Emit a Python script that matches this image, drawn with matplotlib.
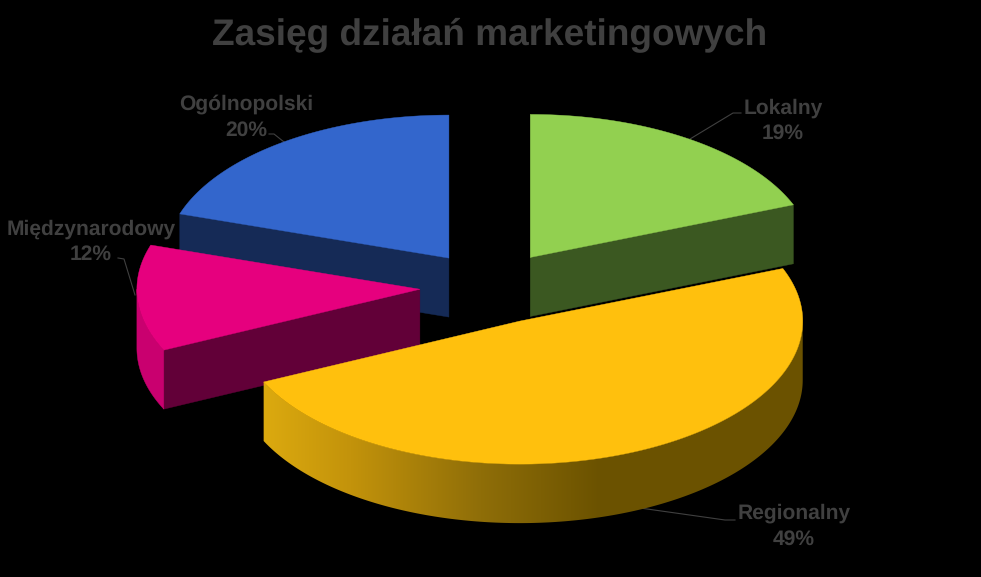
import numpy as np
import matplotlib
matplotlib.use("Agg")
import matplotlib.pyplot as plt
from matplotlib.colors import to_rgb
from matplotlib.patches import Polygon

TITLE = "Zasięg działań marketingowych"
labels = ["Lokalny", "Regionalny", "Międzynarodowy", "Ogólnopolski"]
values = [19, 49, 12, 20]

TOP = ["#92d050", "#ffc00d", "#e6007e", "#3366cc"]
CUT = ["#3b5821", "#6b5200", "#620038", "#152a56"]
RIM = "#c9006f"
DEPTH = 59
CX, CY = 490.5, 287
RX, RY = 283, 143
EXPLODE = [0.25, 0.26, 0.25, 0.25]
GRAY = "#404040"

plt.rcParams["text.hinting"] = "no_hinting"
plt.rcParams["text.hinting_factor"] = 1


def pt(cx, cy, a):
    # angle in degrees, clockwise from 12 o'clock, squashed to an ellipse
    r = np.radians(np.asarray(a))
    return np.column_stack([cx + RX * np.sin(r), cy - RY * np.cos(r)])


def rim_gradient(ax, poly):
    # yellow rim fades from gold to dark brown going right
    stops = [263, 350, 480, 600, 805]
    cols = np.array([to_rgb(c) for c in ["#dcaa0f", "#c3930b", "#8f6e08", "#6b5200", "#6b5200"]])
    xs = np.arange(255, 815)
    img = np.stack([np.interp(xs, stops, cols[:, k]) for k in range(3)], axis=-1)[None, :, :]
    im = ax.imshow(img, extent=(255, 815, 530, 260), aspect="auto", zorder=poly.get_zorder())
    ax.add_patch(poly)
    poly.set_visible(False)
    im.set_clip_path(poly)


def wedge(ax, i, start, end, z):
    r = np.radians((start + end) / 2)
    cx = CX + EXPLODE[i] * RX * np.sin(r)
    cy = CY - EXPLODE[i] * RY * np.cos(r)

    # straight cut faces, only the ones looking toward the viewer
    for a, seen in ((start, 180 < start < 360), (end, 0 < end < 180)):
        if seen:
            x, y = pt(cx, cy, a)[0]
            ax.add_patch(Polygon([(cx, cy), (x, y), (x, y + DEPTH), (cx, cy + DEPTH)],
                                 facecolor=CUT[i], edgecolor=CUT[i], lw=0.3, zorder=z))

    # outer rim, front half of the ellipse only
    lo, hi = max(start, 90), min(end, 270)
    if hi > lo:
        upper = pt(cx, cy, np.linspace(lo, hi, 200))
        lower = upper[::-1] + [0, DEPTH]
        poly = Polygon(np.vstack([upper, lower]), zorder=z)
        if i == 1:
            rim_gradient(ax, poly)
        else:
            poly.set(facecolor=RIM, edgecolor=RIM, lw=0.3)
            ax.add_patch(poly)

    arc = pt(cx, cy, np.linspace(start, end, 200))
    ax.add_patch(Polygon(np.vstack([[cx, cy], arc]), facecolor=TOP[i], edgecolor=TOP[i],
                         lw=0.3, zorder=z + 0.5))


def main():
    fig = plt.figure(figsize=(9.81, 5.77), dpi=100, facecolor="black")
    ax = fig.add_axes([0, 0, 1, 1])
    ax.axis("off")

    # back to front: blue, green, magenta, yellow
    edges = np.cumsum([0] + values) / sum(values) * 360
    for z, i in enumerate([3, 0, 2, 1], start=1):
        wedge(ax, i, edges[i], edges[i + 1], z)

    ax.set_xlim(0, 981)
    ax.set_ylim(577, 0)

    ax.text(490, 35, TITLE, ha="center", va="center", fontsize=26.7, weight="bold", color=GRAY,
            family="Liberation Sans")

    pos = [(783, 121), (794, 526), (91, 242), (246, 117)]
    leaders = [
        [(690, 139), (733, 113), (741, 113)],
        [(640, 508), (725, 520), (735, 520)],
        [(135, 295), (124, 259), (118, 258)],
        [(284, 142), (274, 134), (269, 134)],
    ]
    for name, val, (x, y), line in zip(labels, values, pos, leaders):
        ax.text(x, y, f"{name}\n{val}%", ha="center", va="center", fontsize=15.2, weight="bold",
                color=GRAY, linespacing=1.4, family="Liberation Sans")
        xs, ys = zip(*line)
        ax.plot(xs, ys, color=GRAY, lw=0.8, zorder=0.5)

    fig.savefig("out.png", dpi=100, facecolor="black")
    plt.close(fig)


if __name__ == "__main__":
    main()
